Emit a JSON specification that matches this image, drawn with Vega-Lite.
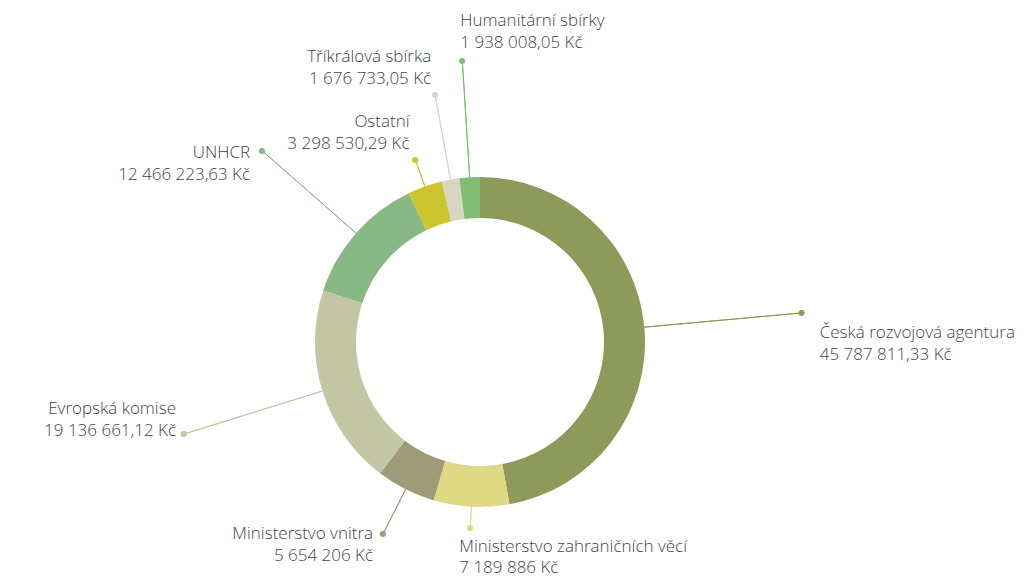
{
  "$schema": "https://vega.github.io/schema/vega-lite/v6.json",
  "width": 960,
  "height": 474,
  "autosize": "none",
  "padding": {"left": 0, "right": 73, "top": 105, "bottom": 0},
  "background": "white",
  "config": {
    "view": {"stroke": null},
    "text": {"font": "Open Sans", "fontWeight": 300, "fontSize": 17, "color": "#444444"}
  },
  "data": {
    "values": [
      {"i": 1, "nazev": "Česká rozvojová agentura", "castka": 45787811.33, "popis": "45 787 811,33 Kč"},
      {"i": 2, "nazev": "Ministerstvo zahraničních věcí", "castka": 7189886, "popis": "7 189 886 Kč"},
      {"i": 3, "nazev": "Ministerstvo vnitra", "castka": 5654206, "popis": "5 654 206 Kč"},
      {"i": 4, "nazev": "Evropská komise", "castka": 19136661.12, "popis": "19 136 661,12 Kč"},
      {"i": 5, "nazev": "UNHCR", "castka": 12466223.63, "popis": "12 466 223,63 Kč"},
      {"i": 6, "nazev": "Ostatní", "castka": 3298530.29, "popis": "3 298 530,29 Kč"},
      {"i": 7, "nazev": "Tříkrálová sbírka", "castka": 1676733.05, "popis": "1 676 733,05 Kč"},
      {"i": 8, "nazev": "Humanitární sbírky", "castka": 1938008.05, "popis": "1 938 008,05 Kč"}
    ]
  },
  "encoding": {
    "theta": {"field": "castka", "type": "quantitative", "stack": true},
    "order": {"field": "i", "type": "quantitative"},
    "color": {
      "field": "nazev", "type": "nominal", "legend": null,
      "scale": {
        "domain": ["Česká rozvojová agentura", "Ministerstvo zahraničních věcí", "Ministerstvo vnitra", "Evropská komise", "UNHCR", "Ostatní", "Tříkrálová sbírka", "Humanitární sbírky"],
        "range": ["#8e9a5a", "#dfd985", "#9f9a77", "#c2c6a3", "#88b885", "#ccc52e", "#d6d6c2", "#7fbd72"]
      }
    }
  },
  "layer": [
    {"mark": {"type": "arc", "radius": 165, "radius2": 124}},
    {
      "encoding": {"opacity": {"condition": {"test": "datum.i === 1", "value": 1}, "value": 0}},
      "layer": [
        {"mark": {"type": "arc", "filled": false, "radius": 323, "radius2": 165, "padAngle": 3.1416, "strokeWidth": 1}},
        {"mark": {"type": "text", "text": "●", "radius": 323, "fontSize": 8, "font": "DejaVu Sans", "fontWeight": "normal", "align": "center", "baseline": "middle"}},
        {"mark": {"type": "text", "radius": 323, "align": "left", "baseline": "middle", "dx": 18, "dy": 20}, "encoding": {"color": {"value": "#444444"}, "text": {"field": "nazev"}}},
        {"mark": {"type": "text", "radius": 323, "align": "left", "baseline": "middle", "dx": 18, "dy": 42}, "encoding": {"color": {"value": "#444444"}, "text": {"field": "popis"}}}
      ]
    },
    {
      "encoding": {"opacity": {"condition": {"test": "datum.i === 2", "value": 1}, "value": 0}},
      "layer": [
        {"mark": {"type": "arc", "filled": false, "radius": 186, "radius2": 165, "padAngle": 3.1416, "strokeWidth": 1}},
        {"mark": {"type": "text", "text": "●", "radius": 186, "fontSize": 8, "font": "DejaVu Sans", "fontWeight": "normal", "align": "center", "baseline": "middle"}},
        {"mark": {"type": "text", "radius": 186, "align": "left", "baseline": "middle", "dx": -11, "dy": 19}, "encoding": {"color": {"value": "#444444"}, "text": {"field": "nazev"}}},
        {"mark": {"type": "text", "radius": 186, "align": "left", "baseline": "middle", "dx": -11, "dy": 40}, "encoding": {"color": {"value": "#444444"}, "text": {"field": "popis"}}}
      ]
    },
    {
      "encoding": {"opacity": {"condition": {"test": "datum.i === 3", "value": 1}, "value": 0}},
      "layer": [
        {"mark": {"type": "arc", "filled": false, "radius": 215, "radius2": 165, "padAngle": 3.1416, "strokeWidth": 1}},
        {"mark": {"type": "text", "text": "●", "radius": 215, "fontSize": 8, "font": "DejaVu Sans", "fontWeight": "normal", "align": "center", "baseline": "middle"}},
        {"mark": {"type": "text", "radius": 215, "align": "right", "baseline": "middle", "dx": -10, "dy": 0}, "encoding": {"color": {"value": "#444444"}, "text": {"field": "nazev"}}},
        {"mark": {"type": "text", "radius": 215, "align": "right", "baseline": "middle", "dx": -10, "dy": 22}, "encoding": {"color": {"value": "#444444"}, "text": {"field": "popis"}}}
      ]
    },
    {
      "encoding": {"opacity": {"condition": {"test": "datum.i === 4", "value": 1}, "value": 0}},
      "layer": [
        {"mark": {"type": "arc", "filled": false, "radius": 310, "radius2": 165, "padAngle": 3.1416, "strokeWidth": 1}},
        {"mark": {"type": "text", "text": "●", "radius": 310, "fontSize": 8, "font": "DejaVu Sans", "fontWeight": "normal", "align": "center", "baseline": "middle"}},
        {"mark": {"type": "text", "radius": 310, "align": "right", "baseline": "middle", "dx": -8, "dy": -25}, "encoding": {"color": {"value": "#444444"}, "text": {"field": "nazev"}}},
        {"mark": {"type": "text", "radius": 310, "align": "right", "baseline": "middle", "dx": -8, "dy": -3}, "encoding": {"color": {"value": "#444444"}, "text": {"field": "popis"}}}
      ]
    },
    {
      "encoding": {"opacity": {"condition": {"test": "datum.i === 5", "value": 1}, "value": 0}},
      "layer": [
        {"mark": {"type": "arc", "filled": false, "radius": 290, "radius2": 165, "padAngle": 3.1416, "strokeWidth": 1}},
        {"mark": {"type": "text", "text": "●", "radius": 290, "fontSize": 8, "font": "DejaVu Sans", "fontWeight": "normal", "align": "center", "baseline": "middle"}},
        {"mark": {"type": "text", "radius": 290, "align": "right", "baseline": "middle", "dx": -12, "dy": 2}, "encoding": {"color": {"value": "#444444"}, "text": {"field": "nazev"}}},
        {"mark": {"type": "text", "radius": 290, "align": "right", "baseline": "middle", "dx": -12, "dy": 24}, "encoding": {"color": {"value": "#444444"}, "text": {"field": "popis"}}}
      ]
    },
    {
      "encoding": {"opacity": {"condition": {"test": "datum.i === 6", "value": 1}, "value": 0}},
      "layer": [
        {"mark": {"type": "arc", "filled": false, "radius": 193, "radius2": 165, "padAngle": 3.1416, "strokeWidth": 1}},
        {"mark": {"type": "text", "text": "●", "radius": 193, "fontSize": 8, "font": "DejaVu Sans", "fontWeight": "normal", "align": "center", "baseline": "middle"}},
        {"mark": {"type": "text", "radius": 193, "align": "right", "baseline": "middle", "dx": -6, "dy": -38}, "encoding": {"color": {"value": "#444444"}, "text": {"field": "nazev"}}},
        {"mark": {"type": "text", "radius": 193, "align": "right", "baseline": "middle", "dx": -6, "dy": -16}, "encoding": {"color": {"value": "#444444"}, "text": {"field": "popis"}}}
      ]
    },
    {
      "encoding": {"opacity": {"condition": {"test": "datum.i === 7", "value": 1}, "value": 0}},
      "layer": [
        {"mark": {"type": "arc", "filled": false, "radius": 251, "radius2": 165, "padAngle": 3.1416, "strokeWidth": 1}},
        {"mark": {"type": "text", "text": "●", "radius": 251, "fontSize": 8, "font": "DejaVu Sans", "fontWeight": "normal", "align": "center", "baseline": "middle"}},
        {"mark": {"type": "text", "radius": 251, "align": "right", "baseline": "middle", "dx": -4, "dy": -38}, "encoding": {"color": {"value": "#444444"}, "text": {"field": "nazev"}}},
        {"mark": {"type": "text", "radius": 251, "align": "right", "baseline": "middle", "dx": -4, "dy": -16}, "encoding": {"color": {"value": "#444444"}, "text": {"field": "popis"}}}
      ]
    },
    {
      "encoding": {"opacity": {"condition": {"test": "datum.i === 8", "value": 1}, "value": 0}},
      "layer": [
        {"mark": {"type": "arc", "filled": false, "radius": 282, "radius2": 165, "padAngle": 3.1416, "strokeWidth": 1}},
        {"mark": {"type": "text", "text": "●", "radius": 282, "fontSize": 8, "font": "DejaVu Sans", "fontWeight": "normal", "align": "center", "baseline": "middle"}},
        {"mark": {"type": "text", "radius": 282, "align": "left", "baseline": "middle", "dx": -2, "dy": -40}, "encoding": {"color": {"value": "#444444"}, "text": {"field": "nazev"}}},
        {"mark": {"type": "text", "radius": 282, "align": "left", "baseline": "middle", "dx": -2, "dy": -18}, "encoding": {"color": {"value": "#444444"}, "text": {"field": "popis"}}}
      ]
    }
  ]
}
